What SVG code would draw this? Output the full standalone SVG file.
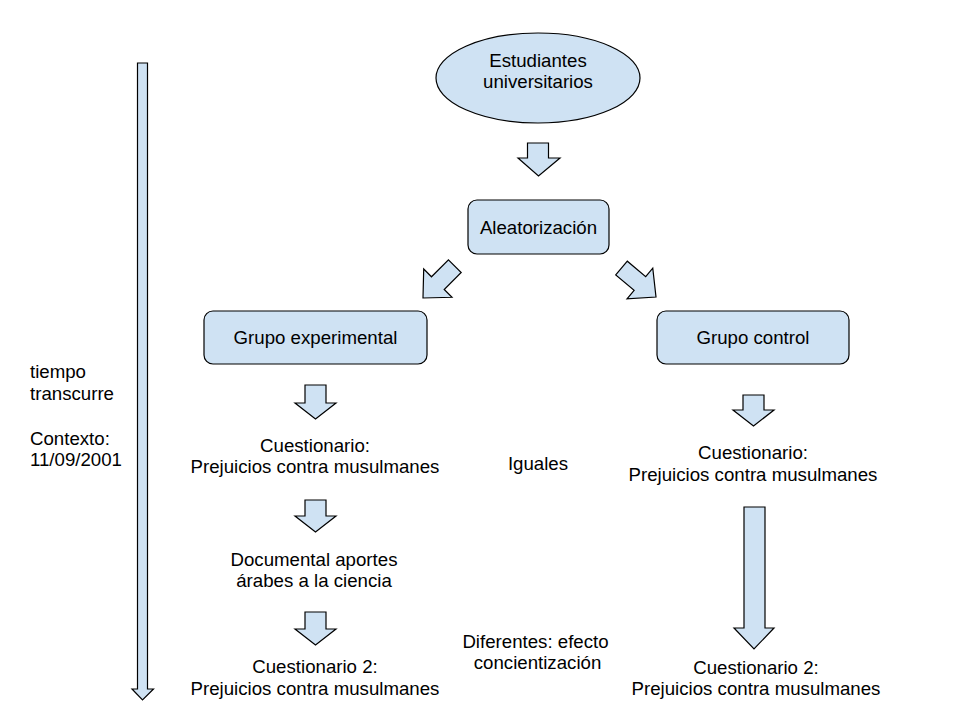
<svg xmlns="http://www.w3.org/2000/svg" width="960" height="720" viewBox="0 0 960 720">
<style>
.s{fill:#cfe2f3;stroke:#000;stroke-width:1.2}
text{font-family:"Liberation Sans",Arial,sans-serif;font-size:18.67px;fill:#000}
.c{text-anchor:middle}
</style>
<rect width="960" height="720" fill="#fff"/>
<g id="connectors">
<path class="s" d="M527.5,143H548.5V158H560L538.5,176L518,158H527.5Z"/>
<g transform="translate(423,298) rotate(45)"><path class="s" d="M-9,-45H9V-21H20L0,0L-20,-21H-9Z"/></g>
<g transform="translate(656,297) rotate(-50)"><path class="s" d="M-9,-45H9V-21H20L0,0L-20,-21H-9Z"/></g>
<path class="s" d="M305,385H326V403H336L315.5,419L295,403H305Z"/>
<path class="s" d="M305,500H326V516H336L315.5,532L295,516H305Z"/>
<path class="s" d="M305,612H326V629H336L315.5,645L295,629H305Z"/>
<path class="s" d="M743,395H764V410H774L753.5,426L733,410H743Z"/>
<path class="s" d="M744,507H765V628H774L754,649L734,628H744Z"/>
<path class="s" d="M137.5,63H147.5V689H153.5L142.5,700L132,689H137.5Z"/>
</g>
<g id="estudiantes"><ellipse class="s" cx="538" cy="78" rx="102" ry="45"/><text class="c" x="538" y="67">Estudiantes</text><text class="c" x="538" y="88">universitarios</text></g>
<g id="aleatorizacion"><rect class="s" x="468" y="200" width="141" height="54" rx="9"/><text class="c" x="538.5" y="234">Aleatorización</text></g>
<g id="grupo-experimental"><rect class="s" x="204" y="311" width="223" height="53" rx="9"/><text class="c" x="315.5" y="344">Grupo experimental</text></g>
<g id="grupo-control"><rect class="s" x="657" y="311" width="192" height="53" rx="9"/><text class="c" x="753" y="344">Grupo control</text></g>
<g id="cuestionario-exp"><text class="c" x="315" y="452">Cuestionario:</text><text class="c" x="315" y="473">Prejuicios contra musulmanes</text></g>
<g id="iguales"><text class="c" x="538" y="470">Iguales</text></g>
<g id="cuestionario-ctrl"><text class="c" x="753" y="459">Cuestionario:</text><text class="c" x="753" y="481">Prejuicios contra musulmanes</text></g>
<g id="documental"><text class="c" x="314" y="566">Documental aportes</text><text class="c" x="314" y="587">árabes a la ciencia</text></g>
<g id="cuestionario2-exp"><text class="c" x="315" y="673">Cuestionario 2:</text><text class="c" x="315" y="695">Prejuicios contra musulmanes</text></g>
<g id="diferentes"><text class="c" x="535.5" y="648">Diferentes: efecto</text><text class="c" x="537.5" y="669">concientización</text></g>
<g id="cuestionario2-ctrl"><text class="c" x="756" y="674">Cuestionario 2:</text><text class="c" x="756" y="695">Prejuicios contra musulmanes</text></g>
<g id="tiempo"><text x="30" y="378">tiempo</text><text x="30" y="400">transcurre</text><text x="30" y="445">Contexto:</text><text x="30" y="466">11/09/2001</text></g>
</svg>
